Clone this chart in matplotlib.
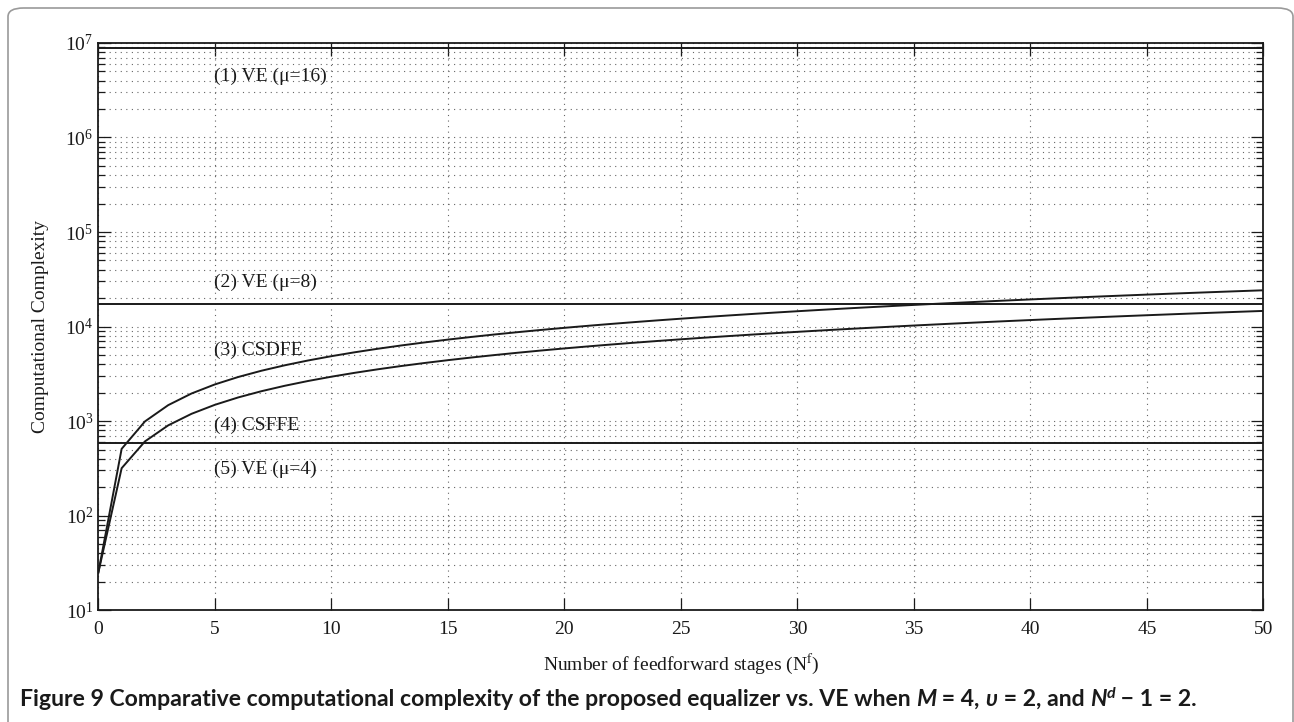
import matplotlib
matplotlib.use('Agg')
import matplotlib.pyplot as plt
from matplotlib.patches import FancyBboxPatch
from matplotlib.text import Annotation
from matplotlib.ticker import LogLocator, LogFormatterMathtext, NullFormatter

plt.rcParams['font.family'] = ['Liberation Serif', 'DejaVu Serif']
plt.rcParams['mathtext.fontset'] = 'stix'

# number of feedforward stages
n_stages = list(range(51))

# complexity of the proposed equalizers per stage count
csdfe = [25, 508, 991, 1474, 1957, 2440, 2923, 3406, 3889, 4372,
         4855, 5338, 5821, 6304, 6787, 7270, 7753, 8236, 8719, 9202,
         9685, 10168, 10651, 11134, 11617, 12100, 12583, 13066, 13549, 14032,
         14515, 14998, 15481, 15964, 16447, 16930, 17413, 17896, 18379, 18862,
         19345, 19828, 20311, 20794, 21277, 21760, 22243, 22726, 23209, 23692,
         24175]
csffe = [25, 317, 609, 901, 1193, 1485, 1777, 2069, 2361, 2653,
         2945, 3237, 3529, 3821, 4113, 4405, 4697, 4989, 5281, 5573,
         5865, 6157, 6449, 6741, 7033, 7325, 7617, 7909, 8201, 8493,
         8785, 9077, 9369, 9661, 9953, 10245, 10537, 10829, 11121, 11413,
         11705, 11997, 12289, 12581, 12873, 13165, 13457, 13749, 14041, 14333,
         14625]

# Viterbi equalizer complexity (independent of N^f)
ve_levels = [8.8e6, 1.72e4, 582]

labels = ['(1) VE (\u03bc=16)', '(2) VE (\u03bc=8)', '(3) CSDFE',
          '(4) CSFFE', '(5) VE (\u03bc=4)']
label_y = [4.4e6, 2.9e4, 5640, 890, 309]

# caption pieces: (text, italic, superscript)
caption = [
    ('Figure 9 Comparative computational complexity of the proposed equalizer vs. VE when ', False, False),
    ('M', True, False),
    (' = 4, ', False, False),
    ('\u03c5', True, False),
    (' = 2, and ', False, False),
    ('N', True, False),
    ('d', True, True),
    (' \u2212 1 = 2.', False, False),
]

fig = plt.figure(figsize=(12.94, 7.22), dpi=100)

# rounded frame around the figure, open at the bottom
frame = FancyBboxPatch((8 / 1294, -40 / 722), 1285 / 1294, 754 / 722,
                       boxstyle='round,pad=0,rounding_size=0.012',
                       transform=fig.transFigure, fill=False,
                       edgecolor='#9a9a9a', linewidth=1.2)
fig.patches.append(frame)

ax = fig.add_axes([0.076, 0.155, 0.9003, 0.7855])

for v in ve_levels:
    ax.plot([n_stages[0], n_stages[-1]], [v, v], color='#1a1a1a', linewidth=1.4)
ax.plot(n_stages, csdfe, color='#1a1a1a', linewidth=1.4)
ax.plot(n_stages, csffe, color='#1a1a1a', linewidth=1.4)

ax.set_yscale('log')
ax.set_xlim(0, 50)
ax.set_ylim(10, 1e7)
ax.set_xticks(range(0, 51, 5))
ax.yaxis.set_major_locator(LogLocator(base=10, numticks=10))
ax.yaxis.set_major_formatter(LogFormatterMathtext())
ax.yaxis.set_minor_locator(LogLocator(base=10, subs=range(2, 10), numticks=20))
ax.yaxis.set_minor_formatter(NullFormatter())

ax.tick_params(which='both', direction='in', top=True, right=True,
               labelsize=14, colors='#1a1a1a')
ax.tick_params(which='major', length=9, width=0.9)
ax.tick_params(which='minor', length=5, width=0.9)
ax.tick_params(axis='x', pad=8)

ax.grid(True, which='major', linestyle=(0, (1, 4)), color='#666666', linewidth=0.8)
ax.grid(True, which='minor', axis='y', linestyle=(0, (1, 4)), color='#666666', linewidth=0.8)

for sp in ax.spines.values():
    sp.set_linewidth(1.3)
    sp.set_color('#1a1a1a')

for txt, y in zip(labels, label_y):
    ax.text(4.95, y, txt, fontsize=14, va='center', ha='left', color='#1a1a1a')

ax.set_xlabel('Number of feedforward stages (N$^{\\mathrm{f}}$)', fontsize=14,
              labelpad=10, color='#1a1a1a')
ax.set_ylabel('Computational Complexity', fontsize=14, labelpad=12, color='#1a1a1a')

# caption, written piece by piece so the symbols can be italic
cap_font = ['Lato', 'DejaVu Sans']
cap_y = 1 - 706 / 722
last = None
for txt, italic, sup in caption:
    kw = dict(family=cap_font, fontweight='bold', color='#1a1a1a',
              fontstyle='italic' if italic else 'normal',
              fontsize=11.5 if sup else 16.6, va='baseline', ha='left')
    y = cap_y + (8 / 722 if sup else 0)
    if last is None:
        last = fig.text(20 / 1294, y, txt, **kw)
    else:
        last = fig.add_artist(Annotation(txt, xy=(1, y),
                                         xycoords=(last, 'figure fraction'), **kw))

fig.savefig('out.png', dpi=100)
